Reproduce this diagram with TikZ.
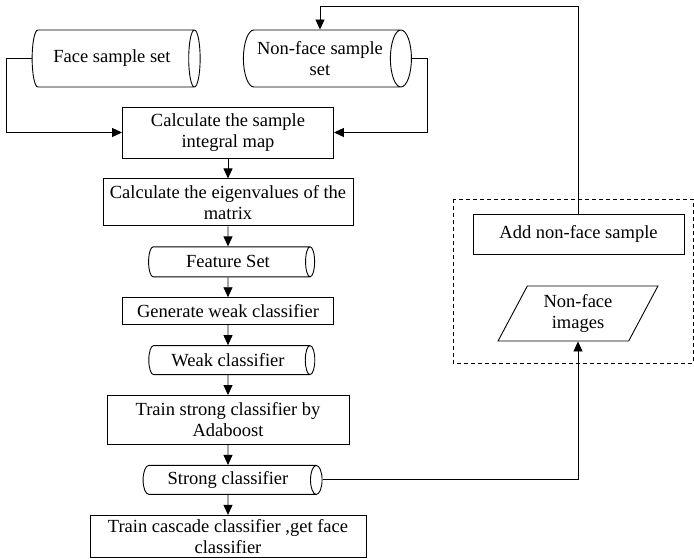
\documentclass[tikz,border=0pt]{standalone}
\usepackage{fontspec}
\setmainfont{Liberation Serif}
\usetikzlibrary{arrows.meta,positioning,shapes.geometric}

\begin{document}
\begin{tikzpicture}[x=1pt,y=1pt,node distance=20pt,>={Triangle[length=10pt,width=9pt]},line width=0.9pt,
    font=\fontsize{18.5}{21}\selectfont,
    box/.style={draw,rectangle,align=center,inner sep=2pt},
    % a cylinder's height runs along its axis
    store/.style={draw,cylinder,aspect=0.55,align=center,inner sep=2pt},
    io/.style={draw,trapezium,trapezium left angle=64,trapezium right angle=116,trapezium stretches=true,align=center}]
    \useasboundingbox (0,0) rectangle (694,-559);
    % sample sets
    \node[store,minimum height=168pt,minimum width=57pt] (face) at (112,-58.5) {Face sample set};
    \node[store,minimum height=168pt,minimum width=57pt] (nonface) at (320,-58.5) {Non-face sample\\set};
    % training chain
    \node[box,minimum width=211pt,minimum height=51pt] (calc) at (228,-132.5) {Calculate the sample\\integral map};
    \node[box,minimum width=250pt,minimum height=47pt] (eig) [below=of calc] {Calculate the eigenvalues of the\\matrix};
    \node[store,minimum height=166pt,minimum width=30pt] (feat) [below=of eig] {Feature Set};
    \node[box,minimum width=211pt,minimum height=27pt] (gen) [below=of feat] {Generate weak classifier};
    \node[store,minimum height=166pt,minimum width=29pt] (weak) [below=of gen] {Weak classifier};
    \node[box,minimum width=242pt,minimum height=49pt] (train) [below=of weak] {Train strong classifier by\\Adaboost};
    \node[store,minimum height=179pt,minimum width=29pt] (strong) [below=of train] {Strong classifier};
    \node[box,minimum width=276pt,minimum height=42pt,inner sep=0pt] (casc) [below=of strong] {Train cascade classifier ,get face\\classifier};
    % bootstrapping loop
    \node[box,minimum width=211pt,minimum height=40pt] (add) at (578.5,-234) {Add non-face sample};
    \node[io,minimum width=160pt,minimum height=55pt] (img) at (578,-313.5) {Non-face\\images};
    \draw[dash pattern=on 4pt off 3pt] (453,-199) rectangle (693,-363);

    \draw[->] (face.west) -- ++(-25,0) |- (calc.west);
    \draw[->] (nonface.east) -- ++(16,0) |- (calc.east);
    \draw[->] (calc) -- (eig);
    \draw[->] (eig) -- (feat);
    \draw[->] (feat) -- (gen);
    \draw[->] (gen) -- (weak);
    \draw[->] (weak) -- (train);
    \draw[->] (train) -- (strong);
    \draw[->] (strong) -- (casc);
    \draw[->] (strong.east) -| (img.south);
    \draw[->] (add.north) -- ++(0,207) -| (nonface.north);
\end{tikzpicture}
\end{document}
